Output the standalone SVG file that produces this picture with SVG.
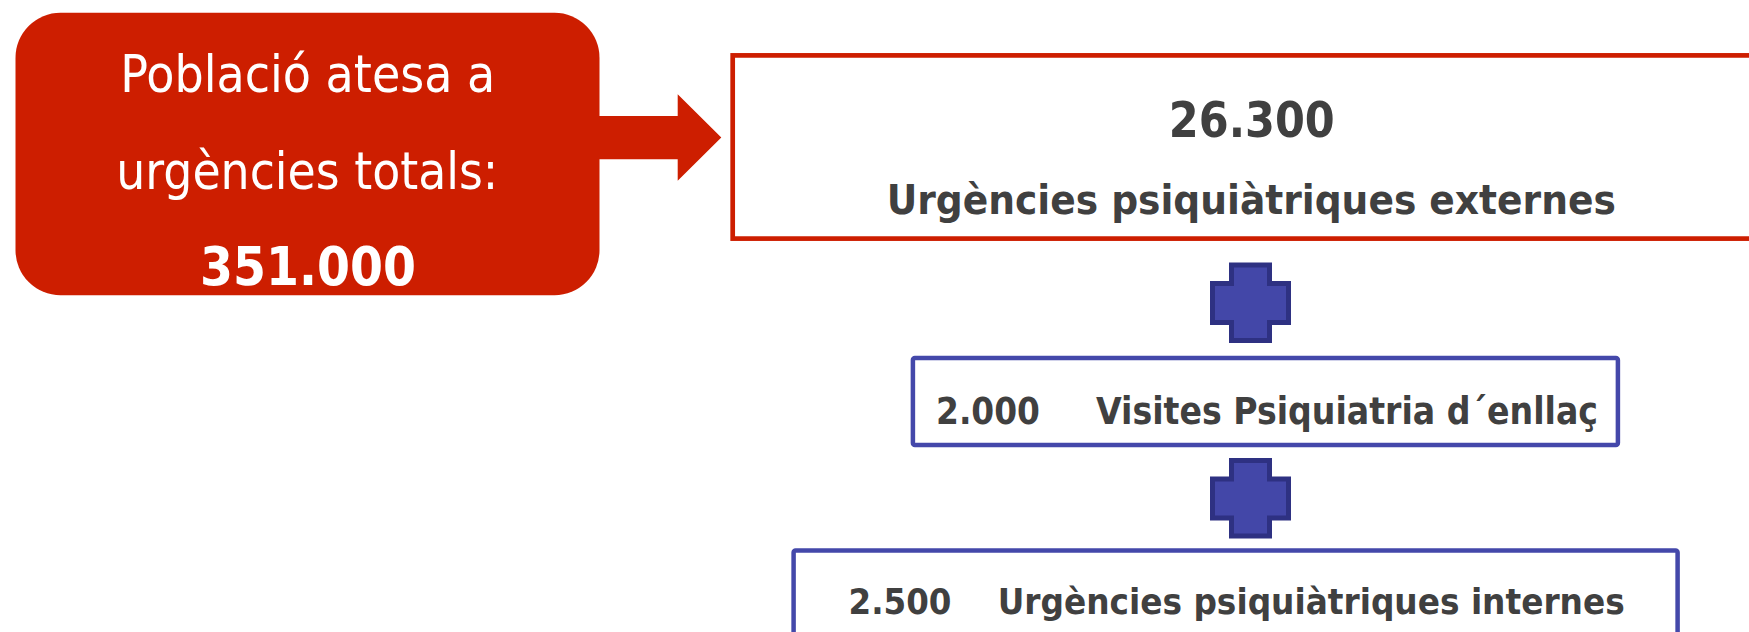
<svg xmlns="http://www.w3.org/2000/svg" width="1749" height="632" viewBox="0 0 1749 632">
  <style>
    .t { font-family: "DejaVu Sans Condensed", "DejaVu Sans", "Liberation Sans", sans-serif; font-stretch: condensed; }
    .w { fill: #ffffff; }
    .g { fill: #404040; font-weight: bold; }
    .b { font-weight: bold; }
    .redbox { fill: #ffffff; stroke: #CD1E00; stroke-width: 4.7; }
    .bluebox { fill: #ffffff; stroke: #4448AA; stroke-width: 4.5; }
    .plus { fill: #4347A8; stroke: #2E3182; stroke-width: 5; stroke-linejoin: miter; }
  </style>
  <defs>
    <path id="plusShape" class="plus" d="M1231.5,265 H1269.5 V283.5 H1288.5 V322.5 H1269.5 V340.5 H1231.5 V322.5 H1212.5 V283.5 H1231.5 Z"/>
  </defs>
  <rect width="1749" height="632" fill="#ffffff"/>

  <g id="connectors">
    <polygon id="arrow" points="599,116 677.7,116 677.7,94.3 721.3,137.5 677.7,180.7 677.7,159.3 599,159.3" fill="#CD1E00"/>
    <use id="plus1" href="#plusShape"/>
    <use id="plus2" href="#plusShape" transform="translate(0,195.5)"/>
  </g>

  <g id="node-poblacio">
    <rect x="15.5" y="12.7" width="584" height="282.5" rx="45" ry="45" fill="#CD1E00"/>
    <text class="t w" x="307.8" y="92.3" font-size="51" text-anchor="middle" textLength="375" lengthAdjust="spacingAndGlyphs">Població atesa a</text>
    <text class="t w" x="307.3" y="189" font-size="51" text-anchor="middle" textLength="382" lengthAdjust="spacingAndGlyphs">urgències totals:</text>
    <text class="t w b" x="308" y="285" font-size="53" text-anchor="middle" textLength="216" lengthAdjust="spacingAndGlyphs">351.000</text>
  </g>

  <g id="node-externes">
    <rect class="redbox" x="732.7" y="55.4" width="1030" height="183.2"/>
    <text class="t g" x="1251.8" y="137.3" font-size="49" text-anchor="middle" textLength="166" lengthAdjust="spacingAndGlyphs">26.300</text>
    <text class="t g" x="1251.3" y="214" font-size="41" text-anchor="middle" textLength="729" lengthAdjust="spacingAndGlyphs">Urgències psiquiàtriques externes</text>
  </g>

  <g id="node-enllac">
    <rect class="bluebox" x="912.9" y="358.1" width="705" height="87" rx="2" ry="2"/>
    <text class="t g" x="936" y="424" font-size="37" textLength="104" lengthAdjust="spacingAndGlyphs">2.000</text>
    <text class="t g" x="1096" y="424" font-size="37" textLength="502" lengthAdjust="spacingAndGlyphs">Visites Psiquiatria d´enllaç</text>
  </g>

  <g id="node-internes">
    <rect class="bluebox" x="793.6" y="550.6" width="884" height="200" rx="2" ry="2"/>
    <text class="t g" x="848.5" y="614.3" font-size="36" textLength="103" lengthAdjust="spacingAndGlyphs">2.500</text>
    <text class="t g" x="997.7" y="614.3" font-size="36" textLength="627" lengthAdjust="spacingAndGlyphs">Urgències psiquiàtriques internes</text>
  </g>
</svg>
